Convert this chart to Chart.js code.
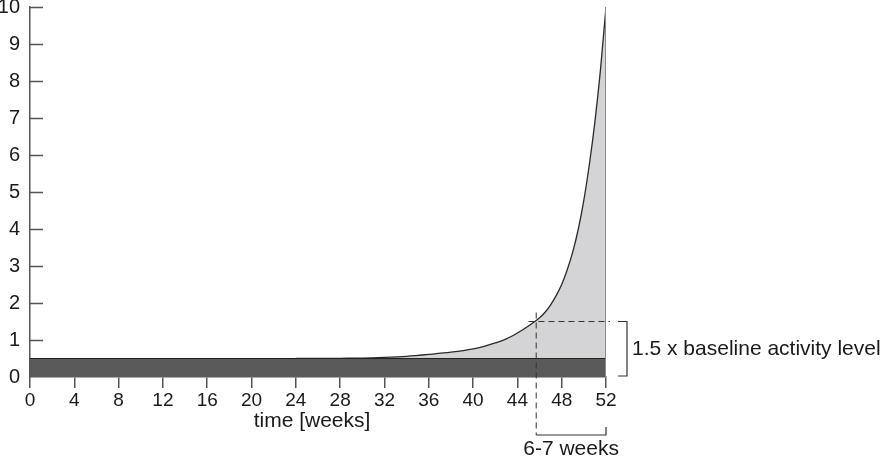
<!DOCTYPE html>
<html>
<head>
<meta charset="utf-8">
<script src="https://cdn.jsdelivr.net/npm/chart.js@4"></script>
<style>
  body { margin: 0; background: #fff; }
</style>
</head>
<body>
<canvas id="chart" width="881" height="462"></canvas>
<script>
// curve: weeks and activity values
const weeks = [24, 26, 28, 30, 32, 34, 36, 38, 40, 41, 42, 43, 44, 45, 46, 46.5, 47, 47.5, 48, 48.5, 49, 49.5, 50, 50.5, 51, 51.5, 52];
const activity = [0.5, 0.5, 0.505, 0.51, 0.53, 0.56, 0.61, 0.67, 0.76, 0.83, 0.92, 1.03, 1.19, 1.38, 1.6, 1.75, 1.95, 2.2, 2.5, 2.9, 3.38, 4.0, 4.78, 5.75, 6.9, 8.3, 10];
const baseline = 0.5;
const threshold = 1.5;
const crossWeek = 45.7;
const xTicks = [0, 4, 8, 12, 16, 20, 24, 28, 32, 36, 40, 44, 48, 52];
const yTicks = [0, 1, 2, 3, 4, 5, 6, 7, 8, 9, 10];
const xLabel = 'time [weeks]';
const levelLabel = '1.5 x baseline activity level';
const spanLabel = '6-7 weeks';

const curvePoints = weeks.map((w, i) => ({ x: w, y: activity[i] }));

// annotations: inward y ticks, dashed guides, brackets, labels
const notes = {
  id: 'notes',
  afterDatasetsDraw(chart) {
    const { ctx, scales: { x, y } } = chart;
    ctx.save();
    ctx.strokeStyle = '#555';
    ctx.lineWidth = 1.5;
    yTicks.forEach(v => {
      if (v === 0) return;
      const py = Math.round(y.getPixelForValue(v)) + 0.5;
      ctx.beginPath();
      ctx.moveTo(x.left, py);
      ctx.lineTo(x.left + 13, py);
      ctx.stroke();
    });

    const x52 = x.getPixelForValue(52);
    const xc = x.getPixelForValue(crossWeek);
    const yT = y.getPixelForValue(threshold);
    const y0 = y.getPixelForValue(0);
    const bracketY = 435;

    // dashed guides
    ctx.strokeStyle = '#333';
    ctx.lineWidth = 1;
    ctx.setLineDash([6, 4]);
    ctx.beginPath();
    ctx.moveTo(x.getPixelForValue(45), yT);
    ctx.lineTo(x52 + 4, yT);
    ctx.moveTo(xc, yT - 9);
    ctx.lineTo(xc, bracketY);
    ctx.stroke();
    ctx.setLineDash([]);

    // right bracket
    ctx.lineWidth = 1.2;
    ctx.beginPath();
    ctx.moveTo(x52 + 12, yT);
    ctx.lineTo(x52 + 21, yT);
    ctx.lineTo(x52 + 21, y0 - 1);
    ctx.lineTo(x52 + 12, y0 - 1);
    ctx.stroke();

    // bottom bracket
    ctx.beginPath();
    ctx.moveTo(xc, bracketY);
    ctx.lineTo(x52, bracketY);
    ctx.lineTo(x52, bracketY - 8);
    ctx.stroke();

    ctx.fillStyle = '#1a1a1a';
    ctx.font = '21px "Liberation Sans", Arial, sans-serif';
    ctx.textBaseline = 'middle';
    ctx.textAlign = 'left';
    ctx.fillText(levelLabel, x52 + 26, (yT + y0) / 2);
    ctx.textAlign = 'center';
    ctx.fillText(spanLabel, (xc + x52) / 2, 449);
    ctx.fillText(xLabel, 312, 421);
    ctx.restore();
  }
};

new Chart(document.getElementById('chart'), {
  type: 'line',
  data: {
    datasets: [
      {
        data: [{ x: 52, y: 0 }, { x: 52, y: 10 }],
        borderColor: '#8a8a8a',
        borderWidth: 2,
        pointRadius: 0,
        fill: false,
        order: 1
      },
      {
        data: [{ x: 0, y: baseline }, { x: 52, y: baseline }],
        borderColor: '#222',
        borderWidth: 1,
        backgroundColor: '#5a5a5a',
        pointRadius: 0,
        fill: 'origin',
        order: 2
      },
      {
        data: curvePoints,
        borderColor: '#2a2a2a',
        borderWidth: 1.3,
        backgroundColor: '#d4d4d6',
        pointRadius: 0,
        cubicInterpolationMode: 'monotone',
        fill: { value: baseline },
        order: 3
      }
    ]
  },
  options: {
    responsive: false,
    animation: false,
    layout: { padding: { left: 0, right: 275, top: 7, bottom: 0 } },
    plugins: { legend: { display: false }, tooltip: { enabled: false } },
    scales: {
      x: {
        type: 'linear',
        min: 0,
        max: 52,
        afterFit(scale) {
          scale.height = 85;
          scale.paddingLeft = 0;
          scale.paddingRight = 0;
        },
        afterBuildTicks(scale) { scale.ticks = xTicks.map(v => ({ value: v })); },
        border: { color: '#555', width: 1.5 },
        grid: { drawOnChartArea: false, drawTicks: true, tickLength: 11, color: '#555', lineWidth: 1.5 },
        ticks: {
          padding: 1,
          maxRotation: 0,
          autoSkip: false,
          color: '#1a1a1a',
          font: { family: '"Liberation Sans", Arial, sans-serif', size: 19 }
        }
      },
      y: {
        min: 0,
        max: 10,
        afterFit(scale) {
          scale.width = 30;
          scale.paddingTop = 0;
          scale.paddingBottom = 0;
        },
        afterBuildTicks(scale) { scale.ticks = yTicks.map(v => ({ value: v })); },
        border: { color: '#555', width: 1.5 },
        grid: { drawOnChartArea: false, drawTicks: false },
        ticks: {
          padding: 10,
          color: '#1a1a1a',
          font: { family: '"Liberation Sans", Arial, sans-serif', size: 20 }
        }
      }
    }
  },
  plugins: [notes]
});
</script>
</body>
</html>
